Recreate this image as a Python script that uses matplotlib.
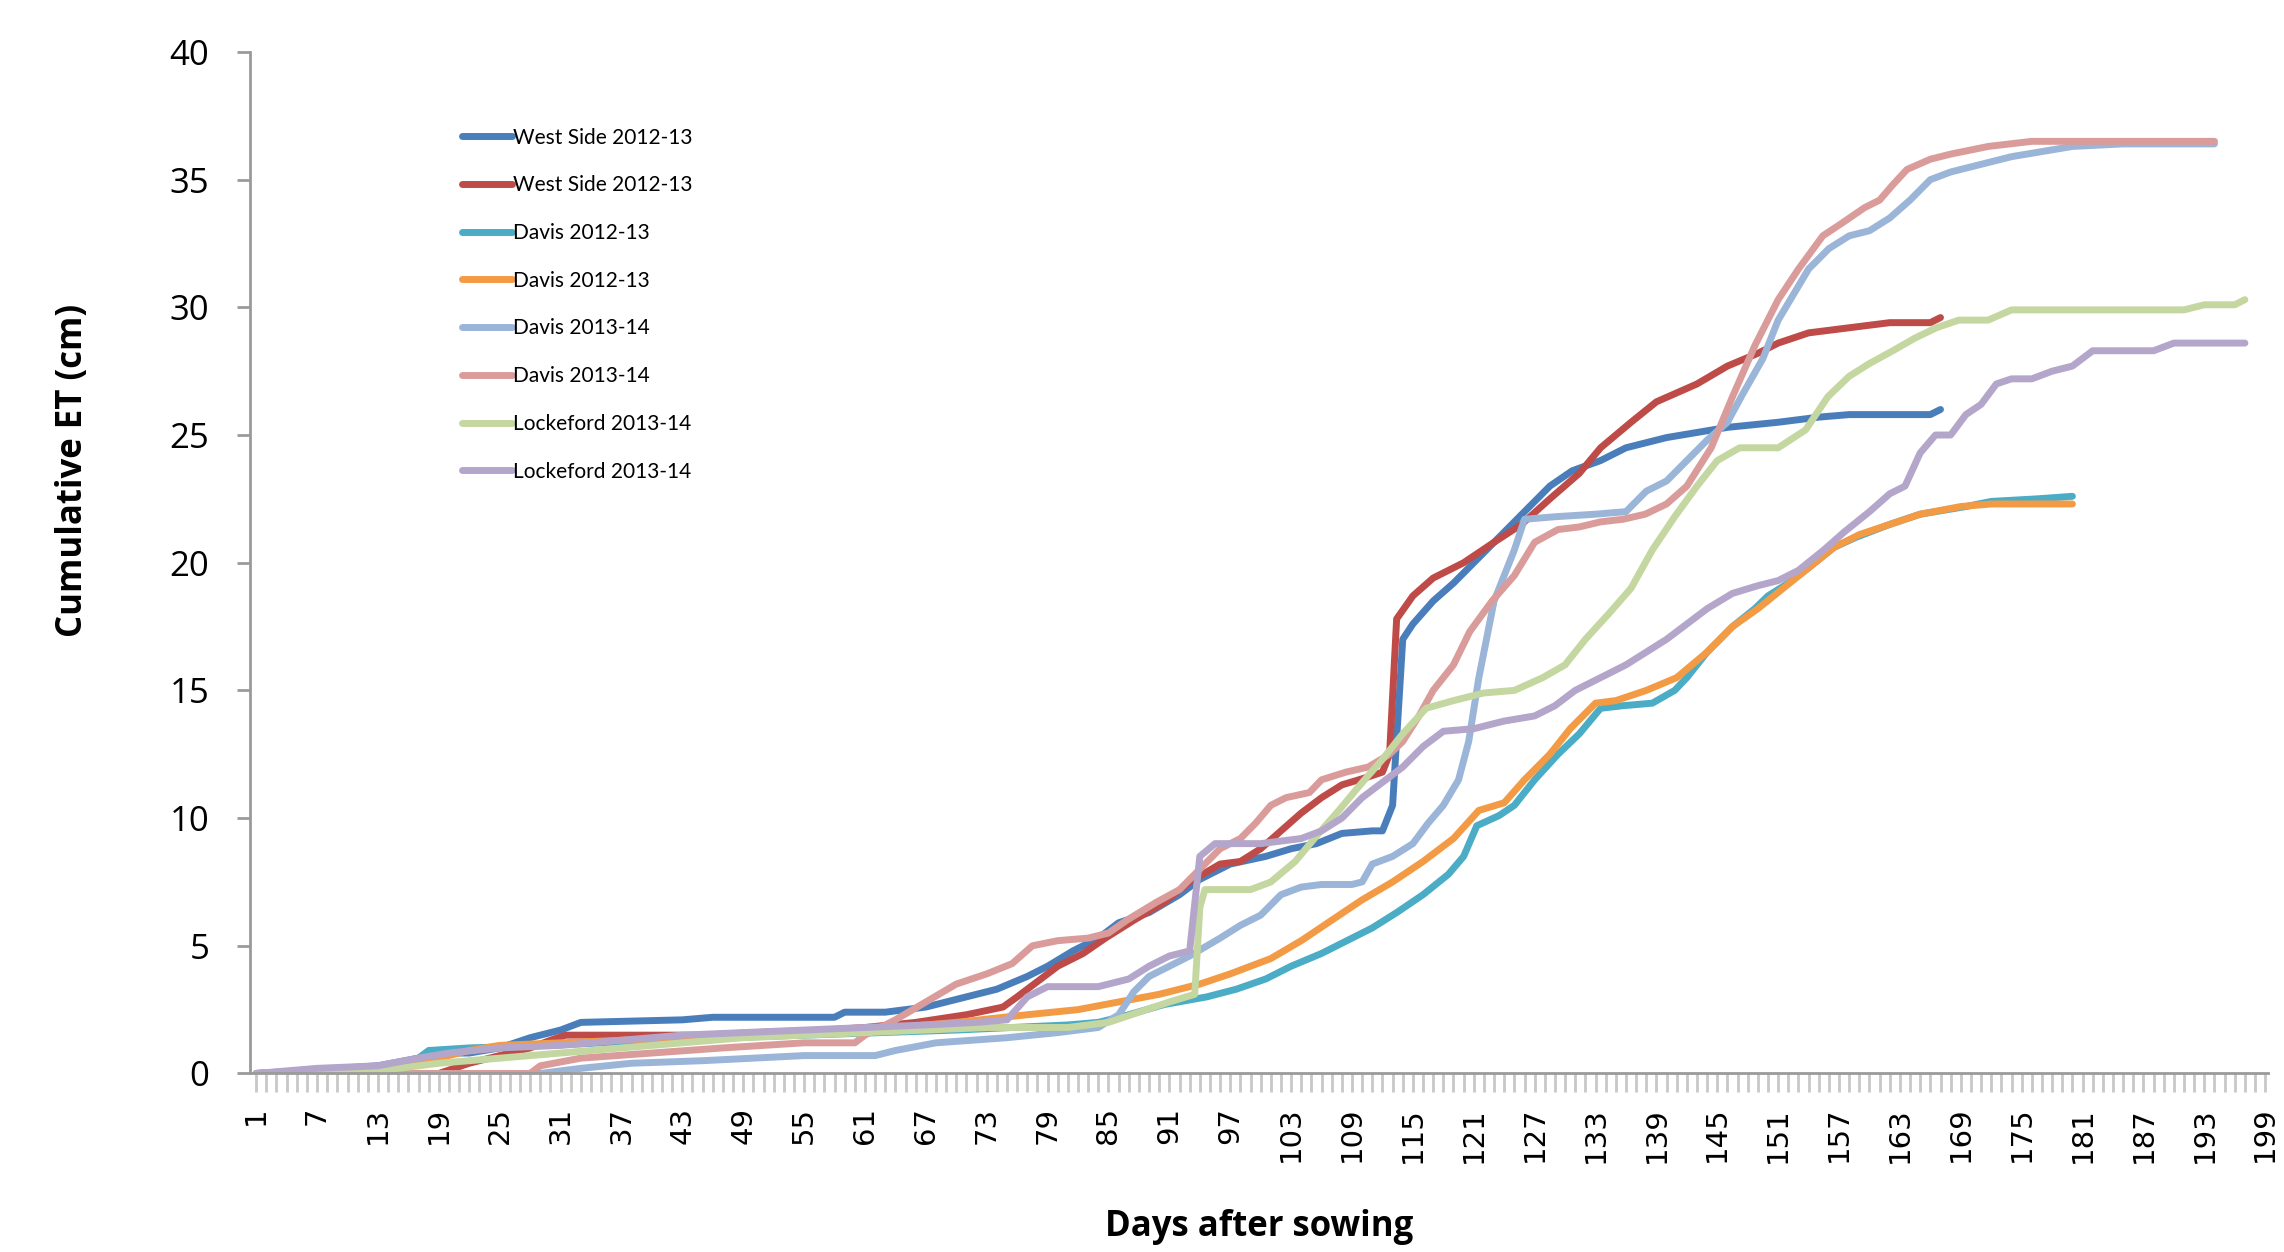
import numpy as np
import matplotlib
matplotlib.use("Agg")
import matplotlib.pyplot as plt
from matplotlib.ticker import MultipleLocator, FixedLocator

# values (day after sowing, cumulative ET in cm)
ws1_days = [1, 13, 17, 19, 22, 25, 28, 31, 33, 43, 46, 58, 59, 63, 67, 70, 74, 77, 79, 81.5, 84, 86, 89, 92, 94,
            97, 100.5, 103, 105.5, 108, 111, 112, 113, 114, 115, 117, 119, 121, 123.5, 126, 128.5, 130.7, 133.5,
            136, 140, 143, 146, 151, 155, 158, 166, 167]
ws1_et = [0, 0.3, 0.6, 0.8, 0.8, 1.0, 1.4, 1.7, 2.0, 2.1, 2.2, 2.2, 2.4, 2.4, 2.6, 2.9, 3.3, 3.8, 4.2, 4.8, 5.3,
          5.9, 6.3, 7.0, 7.6, 8.2, 8.5, 8.8, 9.0, 9.4, 9.5, 9.5, 10.5, 17.0, 17.6, 18.5, 19.2, 20.0, 21.0, 22.0,
          23.0, 23.6, 24.0, 24.5, 24.9, 25.1, 25.3, 25.5, 25.7, 25.8, 25.8, 26.0]

ws2_days = [1, 19, 22, 24, 28, 30, 31.5, 45, 50, 57, 61, 66, 71, 74.6, 76, 78, 80, 82.5, 84.7, 87.5, 90.5, 93, 96,
            98, 100, 102, 104, 106, 108, 110.5, 112, 112.7, 113.4, 115, 117, 120, 123, 125.7, 128.5, 131.4, 133.5,
            136.5, 139, 143, 146, 149, 151, 154, 158, 162, 166, 167]
ws2_et = [0, 0, 0.4, 0.6, 1.0, 1.3, 1.5, 1.5, 1.6, 1.7, 1.8, 2.0, 2.3, 2.6, 3.0, 3.6, 4.2, 4.7, 5.3, 6.0, 6.7, 7.5,
          8.2, 8.3, 8.8, 9.5, 10.2, 10.8, 11.3, 11.6, 11.8, 12.5, 17.8, 18.7, 19.4, 20.0, 20.8, 21.5, 22.5, 23.5,
          24.5, 25.5, 26.3, 27.0, 27.7, 28.2, 28.6, 29.0, 29.2, 29.4, 29.4, 29.6]

dv1_days = [1, 13, 17, 18, 22, 30, 40, 55, 70, 81, 84, 87, 90.5, 94.7, 97.6, 100.5, 103, 106, 109, 111, 113.4, 116,
            118.5, 120, 121.3, 123.5, 125, 127, 129.3, 131.4, 133.5, 135.7, 138.6, 140.8, 142, 144, 146.5, 148.7,
            150, 152, 154, 156.5, 158.7, 162, 165, 169.5, 172, 176.5, 180]
dv1_et = [0, 0.2, 0.6, 0.9, 1.0, 1.1, 1.3, 1.5, 1.7, 1.9, 2.0, 2.3, 2.7, 3.0, 3.3, 3.7, 4.2, 4.7, 5.3, 5.7, 6.3, 7.0,
          7.8, 8.5, 9.7, 10.1, 10.5, 11.5, 12.5, 13.3, 14.3, 14.4, 14.5, 15.0, 15.5, 16.5, 17.5, 18.2, 18.7, 19.2,
          19.8, 20.6, 21.0, 21.5, 21.9, 22.2, 22.4, 22.5, 22.6]

dv2_days = [1, 13, 19, 22, 25, 31, 37, 43, 49, 55, 61, 64, 70, 77, 82, 86, 90, 94, 97, 101, 104, 107, 110, 113, 116,
            119, 121.5, 124, 126, 128.5, 130.5, 133, 135, 138, 141, 144, 146.5, 149, 151.5, 154, 156.5, 159, 162,
            165, 169, 172, 180]
dv2_et = [0, 0.2, 0.6, 0.9, 1.1, 1.2, 1.3, 1.4, 1.5, 1.6, 1.7, 1.8, 2.0, 2.3, 2.5, 2.8, 3.1, 3.5, 3.9, 4.5, 5.2, 6.0,
          6.8, 7.5, 8.3, 9.2, 10.3, 10.6, 11.5, 12.5, 13.5, 14.5, 14.6, 15.0, 15.5, 16.5, 17.5, 18.2, 19.0, 19.8,
          20.6, 21.1, 21.5, 21.9, 22.2, 22.3, 22.3]

dv3_days = [1, 29, 33, 38, 45, 50, 55, 62, 64, 68, 75, 80, 84, 86, 87.5, 89, 91, 93, 96, 98, 100, 102, 104, 106, 109,
            110, 111, 113, 115, 116.5, 118, 119.5, 120.5, 121.5, 123, 125, 126, 129, 133, 136, 138, 140, 142, 144,
            146, 147.5, 149.5, 151, 152.5, 154, 156, 158, 160, 162, 164, 166, 168, 171, 174, 177, 180, 185, 194]
dv3_et = [0, 0, 0.2, 0.4, 0.5, 0.6, 0.7, 0.7, 0.9, 1.2, 1.4, 1.6, 1.8, 2.3, 3.2, 3.8, 4.2, 4.6, 5.3, 5.8, 6.2, 7.0,
          7.3, 7.4, 7.4, 7.5, 8.2, 8.5, 9.0, 9.8, 10.5, 11.5, 13.0, 15.5, 18.5, 20.5, 21.7, 21.8, 21.9, 22.0, 22.8,
          23.2, 24.0, 24.8, 25.5, 26.6, 28.0, 29.5, 30.5, 31.5, 32.3, 32.8, 33.0, 33.5, 34.2, 35.0, 35.3, 35.6,
          35.9, 36.1, 36.3, 36.4, 36.4]

dv4_days = [1, 28, 29, 33, 40, 47, 55, 60, 61, 64, 67, 70, 73, 75.5, 77.5, 80, 83, 85, 86.8, 89.7, 92, 94, 96, 98,
            99.5, 101, 102.5, 104.8, 106, 108.4, 110.6, 112.7, 114, 115.6, 117, 119, 120.6, 122.8, 125, 127, 129.3,
            131.4, 133.5, 135.7, 137.9, 140, 142, 144.4, 146.5, 148.7, 151, 153, 155.4, 157.3, 159.5, 161, 162.3,
            163.7, 166, 168, 171.7, 176, 194]
dv4_et = [0, 0, 0.3, 0.6, 0.8, 1.0, 1.2, 1.2, 1.5, 2.1, 2.8, 3.5, 3.9, 4.3, 5.0, 5.2, 5.3, 5.5, 6.0, 6.7, 7.2, 8.0,
          8.8, 9.2, 9.8, 10.5, 10.8, 11.0, 11.5, 11.8, 12.0, 12.5, 13.0, 14.0, 15.0, 16.0, 17.3, 18.5, 19.5, 20.8,
          21.3, 21.4, 21.6, 21.7, 21.9, 22.3, 23.0, 24.5, 26.5, 28.5, 30.3, 31.5, 32.8, 33.3, 33.9, 34.2, 34.8,
          35.4, 35.8, 36.0, 36.3, 36.5, 36.5]

lk1_days = [1, 13, 19, 25, 31, 37, 43, 49, 55, 61, 67, 73, 81, 85, 88, 91, 93.5, 94, 94.5, 99, 101, 103.4, 105.5,
            107.7, 109.8, 112, 114, 116.3, 119, 122, 125, 127.8, 130, 132, 134.3, 136.5, 138.6, 140.8, 143, 145,
            147.2, 151, 153.7, 155.9, 158, 160, 162.3, 164.5, 166.6, 168.8, 171.7, 174, 191, 193, 196, 197]
lk1_et = [0, 0.1, 0.4, 0.6, 0.8, 1.0, 1.2, 1.4, 1.5, 1.6, 1.7, 1.8, 1.8, 2.0, 2.4, 2.8, 3.1, 6.5, 7.2, 7.2, 7.5,
          8.3, 9.3, 10.3, 11.3, 12.3, 13.3, 14.3, 14.6, 14.9, 15.0, 15.5, 16.0, 17.0, 18.0, 19.0, 20.5, 21.8,
          23.0, 24.0, 24.5, 24.5, 25.2, 26.5, 27.3, 27.8, 28.3, 28.8, 29.2, 29.5, 29.5, 29.9, 29.9, 30.1, 30.1,
          30.3]

lk2_days = [1, 7, 13, 17, 20, 25, 31, 37, 43, 49, 55, 61, 67, 72, 75, 77, 79, 84, 87, 89, 91, 93, 94, 95.5, 100,
            104, 106, 108, 110, 112, 114, 116, 118, 121, 124, 127, 129, 131, 133.5, 136, 138, 140, 142, 144, 146.5,
            149, 151, 153, 155.5, 157.5, 160, 162, 163.5, 165, 166.5, 168, 169.5, 171, 172.5, 174, 176, 178, 180,
            182, 188, 190, 197]
lk2_et = [0, 0.2, 0.3, 0.6, 0.8, 1.0, 1.1, 1.3, 1.5, 1.6, 1.7, 1.8, 1.9, 2.0, 2.1, 3.0, 3.4, 3.4, 3.7, 4.2, 4.6, 4.8,
          8.5, 9.0, 9.0, 9.2, 9.5, 10.0, 10.8, 11.4, 12.0, 12.8, 13.4, 13.5, 13.8, 14.0, 14.4, 15.0, 15.5, 16.0,
          16.5, 17.0, 17.6, 18.2, 18.8, 19.1, 19.3, 19.7, 20.5, 21.2, 22.0, 22.7, 23.0, 24.3, 25.0, 25.0, 25.8,
          26.2, 27.0, 27.2, 27.2, 27.5, 27.7, 28.3, 28.3, 28.6, 28.6]

labels = ['West Side 2012-13', 'West Side 2012-13', 'Davis 2012-13', 'Davis 2012-13',
          'Davis 2013-14', 'Davis 2013-14', 'Lockeford 2013-14', 'Lockeford 2013-14']
colors = ['#4A7EBB', '#BE4B48', '#4BACC6', '#F39A45', '#9AB5D8', '#DA9C9A', '#C4D7A0', '#B4A6CA']
series = [(ws1_days, ws1_et), (ws2_days, ws2_et), (dv1_days, dv1_et), (dv2_days, dv2_et),
          (dv3_days, dv3_et), (dv4_days, dv4_et), (lk1_days, lk1_et), (lk2_days, lk2_et)]

fig = plt.figure(figsize=(22.84, 12.52), dpi=100)
ax = fig.add_axes([0.1095, 0.1426, 0.8836, 0.8159])

for (d, v), c, lab in zip(series, colors, labels):
    ax.plot(d, v, color=c, lw=5, label=lab, solid_capstyle='round', solid_joinstyle='round')

ax.set_xlim(0.4, 199.3)
ax.set_ylim(0, 40)
ax.yaxis.set_major_locator(MultipleLocator(5))
ax.xaxis.set_major_locator(FixedLocator(np.arange(1, 200, 6)))
ax.xaxis.set_minor_locator(FixedLocator(np.arange(1, 200, 1)))
ax.set_xticklabels([str(i) for i in range(1, 200, 6)], rotation=90)
for t in ax.get_yticklabels():
    t.set_family('Open Sans')

for s in ['top', 'right']:
    ax.spines[s].set_visible(False)
for s in ['left', 'bottom']:
    ax.spines[s].set_color('#9a9a9a')
    ax.spines[s].set_linewidth(2)

ax.tick_params(axis='y', which='major', direction='out', length=9.5, width=2, color='#9a9a9a',
               labelsize=25, pad=20)
ax.tick_params(axis='x', which='both', direction='out', length=14, width=2, color='#c8c8c8',
               labelsize=21, pad=10)

ax.set_xlabel('Days after sowing', family='Open Sans', fontweight='bold', fontsize=25)
ax.set_ylabel('Cumulative ET (cm)', family='Open Sans', fontweight='bold', fontsize=25)
ax.xaxis.set_label_coords(0.5, -0.133)
ax.yaxis.set_label_coords(-0.079, 0.59)

leg = ax.legend(loc='upper left', bbox_to_anchor=(0.105, 0.926), frameon=False,
                prop={'family': 'Lato', 'size': 15}, handlelength=2.4, handletextpad=0.05,
                labelspacing=1.33, borderpad=0, borderaxespad=0)

fig.savefig('out.png', dpi=100)
